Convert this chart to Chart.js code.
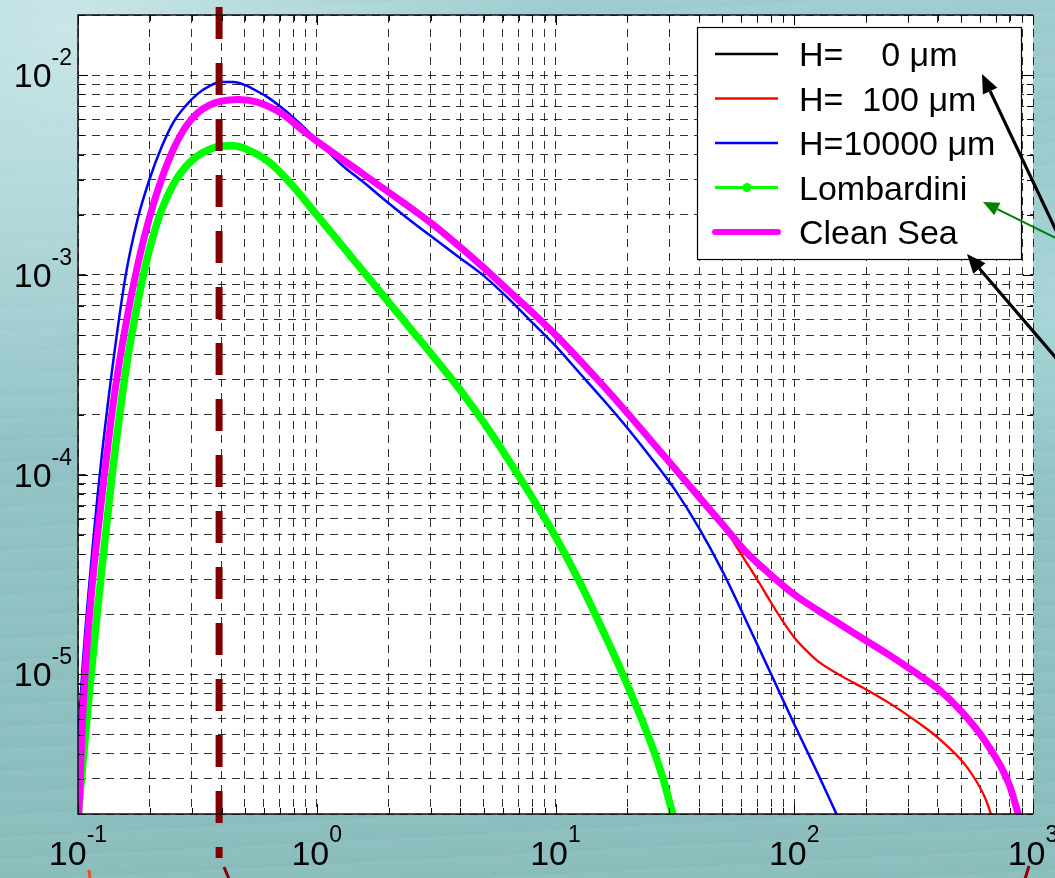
<!DOCTYPE html>
<html>
<head>
<meta charset="utf-8">
<script src="https://cdn.jsdelivr.net/npm/chart.js@4.4.0/dist/chart.umd.min.js"></script>
<style>
  html, body { margin: 0; padding: 0; }
  body {
    width: 1055px; height: 878px; overflow: hidden;
    background-color: #90c2c4;
    background-image:
      radial-gradient(ellipse at 6% 3%, rgba(208,234,236,0.85), rgba(208,234,236,0) 35%),
      radial-gradient(ellipse at 100% 35%, rgba(185,226,229,0.55), rgba(185,226,229,0) 22%),
      repeating-linear-gradient(177deg, rgba(255,255,255,0.03) 0px, rgba(255,255,255,0) 11px, rgba(0,70,80,0.025) 22px),
      linear-gradient(180deg, #a0cdd0 0%, #93c4c7 45%, #8cbebe 100%);
  }
  canvas { display: block; }
</style>
</head>
<body>
<canvas id="myChart" width="1055" height="878"></canvas>
<script>
// axis limits (log-log)
var xMin = 0.1, xMax = 1000;
var yMin = 2e-6, yMax = 2e-2;
var xLabelPowers = [-1, 0, 1, 2, 3];
var yLabelPowers = [-2, -3, -4, -5];
var markerX = 0.39;   // dashed vertical line

var seriesLabels = ['H=    0 \u03bcm', 'H=  100 \u03bcm', 'H=10000 \u03bcm', 'Lombardini', 'Clean Sea'];
var seriesColors = ['#000000', '#ff0000', '#0000ff', '#00ff00', '#ff00ff'];

// Clean Sea (magenta) - H=0 lies exactly under it
var cleanSeaX = [0.1, 0.1047, 0.1096, 0.1148, 0.1202, 0.1259, 0.1413, 0.1585, 0.1778, 0.1995, 0.2239, 0.2512, 0.2818, 0.3162, 0.3548, 0.3981, 0.4677, 0.5623, 0.7079, 0.8913, 1, 1.259, 1.585, 1.995, 2.512, 3.162, 3.981, 5.012, 6.310, 7.943, 10, 12.59, 15.85, 19.95, 25.12, 31.62, 39.81, 50.12, 63.10, 79.43, 100, 125.9, 158.5, 199.5, 251.2, 316.2, 398.1, 501.2, 631.0, 794.3, 891.3];
var cleanSeaY = [1.585e-6, 6.310e-6, 1.479e-5, 2.818e-5, 4.786e-5, 7.762e-5, 2.399e-4, 5.623e-4, 1.122e-3, 1.950e-3, 3.020e-3, 4.266e-3, 5.495e-3, 6.457e-3, 7.079e-3, 7.413e-3, 7.551e-3, 7.328e-3, 6.457e-3, 5.188e-3, 4.677e-3, 3.846e-3, 3.162e-3, 2.600e-3, 2.138e-3, 1.738e-3, 1.380e-3, 1.084e-3, 8.414e-4, 6.531e-4, 5.012e-4, 3.758e-4, 2.786e-4, 2.042e-4, 1.479e-4, 1.072e-4, 7.762e-5, 5.623e-5, 4.074e-5, 3.162e-5, 2.512e-5, 2.089e-5, 1.758e-5, 1.479e-5, 1.245e-5, 1.035e-5, 8.511e-6, 6.531e-6, 4.624e-6, 2.818e-6, 1.778e-6];

// H=100 um: same as clean sea up to ~50, then this tail
var h100TailX = [56.23, 63.10, 70.79, 79.43, 89.13, 100, 112.2, 125.9, 158.5, 199.5, 251.2, 316.2, 398.1, 501.2, 562.3, 631.0, 676.1];
var h100TailY = [4.519e-5, 3.631e-5, 2.917e-5, 2.317e-5, 1.862e-5, 1.531e-5, 1.318e-5, 1.161e-5, 9.772e-6, 8.414e-6, 7.161e-6, 5.957e-6, 4.842e-6, 3.715e-6, 3.090e-6, 2.399e-6, 1.905e-6];

// H=10000 um (blue)
var h10000X = [0.1, 0.1047, 0.1096, 0.1148, 0.1202, 0.1259, 0.1413, 0.1585, 0.1778, 0.1995, 0.2239, 0.2512, 0.2818, 0.3162, 0.3548, 0.3981, 0.4467, 0.5012, 0.5623, 0.6310, 0.7079, 0.7943, 0.8913, 1, 1.259, 1.585, 1.995, 2.512, 3.162, 3.981, 5.012, 6.310, 7.943, 10, 12.59, 15.85, 19.95, 25.12, 31.62, 39.81, 50.12, 63.10, 79.43, 100, 125.9, 158.5];
var h10000Y = [4.677e-6, 1.122e-5, 2.239e-5, 4.169e-5, 7.413e-5, 1.259e-4, 3.890e-4, 1.0e-3, 1.905e-3, 3.020e-3, 4.365e-3, 5.821e-3, 6.998e-3, 8.035e-3, 8.810e-3, 9.226e-3, 9.226e-3, 8.913e-3, 8.318e-3, 7.674e-3, 6.918e-3, 6.166e-3, 5.433e-3, 4.732e-3, 3.589e-3, 2.884e-3, 2.291e-3, 1.841e-3, 1.496e-3, 1.216e-3, 9.886e-4, 7.674e-4, 5.821e-4, 4.416e-4, 3.236e-4, 2.371e-4, 1.718e-4, 1.216e-4, 8.414e-5, 5.433e-5, 3.273e-5, 1.841e-5, 1.023e-5, 5.623e-6, 3.162e-6, 1.738e-6];

// Lombardini (green)
var lombardiniX = [0.1, 0.1047, 0.1096, 0.1148, 0.1202, 0.1259, 0.1349, 0.1413, 0.1585, 0.1778, 0.1995, 0.2239, 0.2512, 0.2818, 0.3162, 0.3548, 0.3981, 0.4467, 0.5012, 0.6310, 0.7943, 1, 1.259, 1.585, 1.995, 2.512, 3.162, 3.981, 5.012, 6.310, 7.943, 10, 12.59, 15.85, 19.95, 25.12, 28.18, 31.62];
var lombardiniY = [1.905e-6, 3.548e-6, 6.457e-6, 1.148e-5, 1.995e-5, 3.388e-5, 7.244e-5, 1.175e-4, 3.311e-4, 7.244e-4, 1.349e-3, 2.113e-3, 2.851e-3, 3.467e-3, 3.936e-3, 4.246e-3, 4.416e-3, 4.436e-3, 4.285e-3, 3.673e-3, 2.786e-3, 1.995e-3, 1.429e-3, 1.023e-3, 7.328e-4, 5.248e-4, 3.758e-4, 2.661e-4, 1.820e-4, 1.202e-4, 7.762e-5, 4.898e-5, 2.917e-5, 1.641e-5, 8.913e-6, 4.519e-6, 3.020e-6, 1.820e-6];

var FONT = '"Liberation Sans", Arial, sans-serif';

function toPoints(xs, ys) {
  var pts = [];
  for (var i = 0; i < xs.length; i++) {
    pts.push({x: xs[i], y: ys[i]});
  }
  return pts;
}

// red curve = clean sea before the split + its own tail
function getH100Points() {
  var pts = [];
  for (var i = 0; i < cleanSeaX.length; i++) {
    if (cleanSeaX[i] < 51) pts.push({x: cleanSeaX[i], y: cleanSeaY[i]});
  }
  return pts.concat(toPoints(h100TailX, h100TailY));
}

// gridlines at 1..9 x 10^n like matlab
function logTicks(min, max) {
  var t = [];
  for (var e = Math.floor(Math.log10(min)); e <= Math.ceil(Math.log10(max)); e++) {
    for (var k = 1; k < 10; k++) {
      var v = k * Math.pow(10, e);
      if (v >= min * 0.999 && v <= max * 1.001) t.push({value: v});
    }
  }
  return t;
}

function drawPower(ctx, p, x, y, isX) {
  ctx.font = '34px ' + FONT;
  var wb = ctx.measureText('10').width;
  ctx.font = '23px ' + FONT;
  var es = String(p);
  var we = ctx.measureText(es).width;
  var left;
  if (isX) {
    left = x - (wb + we) / 2;
    ctx.font = '34px ' + FONT;
    ctx.fillText('10', left, y + 51);
    ctx.font = '23px ' + FONT;
    ctx.fillText(es, left + wb, y + 28);
  } else {
    left = x - wb - we;
    ctx.font = '34px ' + FONT;
    ctx.fillText('10', left, y + 12);
    ctx.font = '23px ' + FONT;
    ctx.fillText(es, left + wb, y - 10);
  }
}

function drawArrow(ctx, x1, y1, x2, y2, color, width, len, half) {
  var ang = Math.atan2(y2 - y1, x2 - x1);
  var bx = x2 - Math.cos(ang) * len, by = y2 - Math.sin(ang) * len;
  ctx.save();
  ctx.strokeStyle = color;
  ctx.fillStyle = color;
  ctx.lineWidth = width;
  ctx.beginPath();
  ctx.moveTo(x1, y1);
  ctx.lineTo(bx, by);
  ctx.stroke();
  ctx.beginPath();
  ctx.moveTo(x2, y2);
  ctx.lineTo(bx + Math.sin(ang) * half, by - Math.cos(ang) * half);
  ctx.lineTo(bx - Math.sin(ang) * half, by + Math.cos(ang) * half);
  ctx.closePath();
  ctx.fill();
  ctx.restore();
}

var plotPlugin = {
  id: 'plotPlugin',
  beforeDraw: function (chart) {
    var a = chart.chartArea, ctx = chart.ctx;
    ctx.save();
    ctx.fillStyle = '#ffffff';
    ctx.fillRect(a.left, a.top, a.right - a.left, a.bottom - a.top);
    ctx.restore();
  },
  afterDatasetsDraw: function (chart) {
    var a = chart.chartArea, ctx = chart.ctx;
    var px = chart.scales.x.getPixelForValue(markerX);
    ctx.save();
    ctx.strokeStyle = '#7f0000';
    ctx.lineWidth = 7;
    ctx.setLineDash([32, 24]);
    ctx.beginPath();
    ctx.moveTo(px, a.top - 8);
    ctx.lineTo(px, a.bottom + 44);
    ctx.stroke();
    ctx.restore();
  },
  afterDraw: function (chart) {
    var a = chart.chartArea, ctx = chart.ctx;
    var xs = chart.scales.x, ys = chart.scales.y;
    ctx.save();

    // inner tick marks
    ctx.strokeStyle = '#000000';
    ctx.lineWidth = 1;
    ctx.beginPath();
    logTicks(xMin, xMax).forEach(function (t) {
      var p = Math.round(xs.getPixelForValue(t.value)) + 0.5;
      var major = Math.abs(Math.log10(t.value) % 1) < 1e-6;
      var l = major ? 10 : 6;
      ctx.moveTo(p, a.bottom); ctx.lineTo(p, a.bottom - l);
      ctx.moveTo(p, a.top); ctx.lineTo(p, a.top + l);
    });
    logTicks(yMin, yMax).forEach(function (t) {
      var p = Math.round(ys.getPixelForValue(t.value)) + 0.5;
      var major = Math.abs(Math.log10(t.value) % 1) < 1e-6;
      var l = major ? 10 : 6;
      ctx.moveTo(a.left, p); ctx.lineTo(a.left + l, p);
      ctx.moveTo(a.right, p); ctx.lineTo(a.right - l, p);
    });
    ctx.stroke();

    // axes box (left, top, bottom solid)
    ctx.strokeStyle = '#111111';
    ctx.lineWidth = 1.5;
    ctx.beginPath();
    ctx.moveTo(a.right, a.top); ctx.lineTo(a.left, a.top);
    ctx.lineTo(a.left, a.bottom); ctx.lineTo(a.right, a.bottom);
    ctx.stroke();

    // tick labels 10^n
    ctx.fillStyle = '#000000';
    ctx.textBaseline = 'alphabetic';
    ctx.textAlign = 'left';
    xLabelPowers.forEach(function (p) {
      drawPower(ctx, p, xs.getPixelForValue(Math.pow(10, p)), a.bottom, true);
    });
    yLabelPowers.forEach(function (p) {
      drawPower(ctx, p, a.left - 6, ys.getPixelForValue(Math.pow(10, p)), false);
    });

    // legend box
    var lx = a.right - 336, ly = a.top + 12, lw = 324, lh = 232;
    ctx.fillStyle = '#ffffff';
    ctx.fillRect(lx, ly, lw, lh);
    ctx.strokeStyle = '#000000';
    ctx.lineWidth = 1.2;
    ctx.strokeRect(lx + 0.5, ly + 0.5, lw, lh);
    chart.data.datasets.forEach(function (ds, i) {
      var ry = ly + 27 + i * 44.5;
      ctx.strokeStyle = ds.borderColor;
      ctx.lineWidth = i === 4 ? 6 : (i === 3 ? 3 : 2.5);
      ctx.lineCap = i === 4 ? 'round' : 'butt';
      ctx.beginPath();
      ctx.moveTo(lx + 18, ry);
      ctx.lineTo(lx + 81, ry);
      ctx.stroke();
      if (i === 3) {
        ctx.fillStyle = ds.borderColor;
        ctx.beginPath();
        ctx.arc(lx + 50, ry, 4.5, 0, Math.PI * 2);
        ctx.fill();
      }
      ctx.fillStyle = '#000000';
      ctx.font = '34px ' + FONT;
      ctx.fillText(ds.label, lx + 102, ry + 12);
    });
    ctx.lineCap = 'butt';

    // annotation arrows
    drawArrow(ctx, 1062, 243, 982, 74, '#000000', 3.2, 19, 8);
    drawArrow(ctx, 1062, 365, 967, 254, '#000000', 3.2, 19, 8);
    drawArrow(ctx, 1062, 241, 983, 202, '#007f00', 2, 16, 7);

    // bits of the slide cut off at the bottom edge
    ctx.lineWidth = 3;
    ctx.strokeStyle = '#e0561c';
    ctx.beginPath(); ctx.moveTo(89, 870); ctx.lineTo(90, 879); ctx.stroke();
    ctx.strokeStyle = '#8b0000';
    ctx.beginPath(); ctx.moveTo(224, 867); ctx.lineTo(229, 879); ctx.stroke();
    ctx.beginPath(); ctx.moveTo(1029, 866); ctx.lineTo(1025, 879); ctx.stroke();

    ctx.restore();
  }
};

function getLogChart() {
  var lineStyle = function (i, data, width, order) {
    return {
      label: seriesLabels[i],
      data: data,
      borderColor: seriesColors[i],
      backgroundColor: seriesColors[i],
      borderWidth: width,
      pointRadius: 0,
      fill: false,
      cubicInterpolationMode: 'monotone',
      order: order
    };
  };
  var myChart = new Chart(document.getElementById('myChart'), {
    type: 'line',
    data: {
      datasets: [
        lineStyle(0, toPoints(cleanSeaX, cleanSeaY), 2, 4),
        lineStyle(1, getH100Points(), 2.3, 3),
        lineStyle(2, toPoints(h10000X, h10000Y), 2.5, 1),
        lineStyle(3, toPoints(lombardiniX, lombardiniY), 7.5, 2),
        lineStyle(4, toPoints(cleanSeaX, cleanSeaY), 7, 0)
      ]
    },
    options: {
      responsive: false,
      animation: false,
      devicePixelRatio: 1,
      layout: { padding: { top: 15, right: 22, left: 0, bottom: 0 } },
      plugins: {
        legend: { display: false },
        tooltip: { enabled: false }
      },
      scales: {
        x: {
          type: 'logarithmic',
          min: xMin,
          max: xMax,
          afterBuildTicks: function (scale) { scale.ticks = logTicks(xMin, xMax); },
          afterFit: function (scale) { scale.height = 64; },
          ticks: { display: false, autoSkip: false },
          grid: { color: 'rgba(0,0,0,0.8)', lineWidth: 1, drawTicks: false },
          border: { display: false, dash: [8, 6] }
        },
        y: {
          type: 'logarithmic',
          min: yMin,
          max: yMax,
          afterBuildTicks: function (scale) { scale.ticks = logTicks(yMin, yMax); },
          afterFit: function (scale) { scale.width = 78; },
          ticks: { display: false, autoSkip: false },
          grid: { color: 'rgba(0,0,0,0.8)', lineWidth: 1, drawTicks: false },
          border: { display: false, dash: [8, 6] }
        }
      }
    },
    plugins: [plotPlugin]
  });
  return myChart;
}

getLogChart();
</script>
</body>
</html>
